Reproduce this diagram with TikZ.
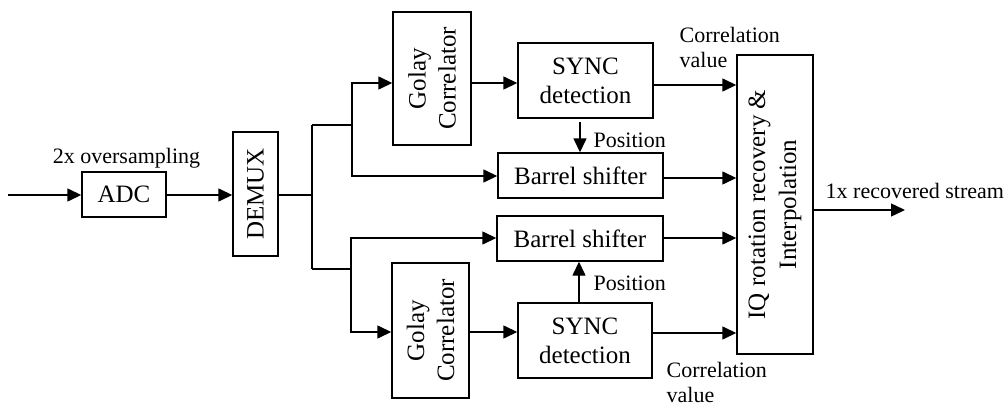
\documentclass[tikz,border=0pt]{standalone}
\usepackage{fontspec}
\setmainfont{Liberation Serif}
\usetikzlibrary{arrows.meta}
\begin{document}
\begin{tikzpicture}[x=1pt,y=-1pt,
  line width=1.4pt,
  blk/.style={draw, line width=1.4pt, inner sep=0pt, align=center,
    font=\fontsize{25}{29}\selectfont},
  lbl/.style={inner sep=0pt, font=\fontsize{22}{25}\selectfont, align=left},
  arr/.style={-{Triangle[length=14pt,width=13pt]}},
  ln/.style={line join=miter}]
\useasboundingbox (0,0) rectangle (1005,407);
% blocks
\node[blk, minimum width=84pt, minimum height=45pt] (adc) at (124,194.5) {ADC};
\node[blk, minimum width=45pt, minimum height=124pt] (demux) at (255.5,194) {\rotatebox{90}{DEMUX}};
\node[blk, minimum width=78pt, minimum height=133pt] (golu) at (432,78.5) {};
\node[rotate=90, align=center, inner sep=0pt, font=\fontsize{25}{30}\selectfont] (golut) at (golu.center) {Golay\\Correlator};
\node[blk, minimum width=135pt, minimum height=75pt] (syncu) at (585.5,80.5) {SYNC\\detection};
\node[blk, minimum width=165pt, minimum height=45pt] (baru) at (580.5,175.5) {Barrel shifter};
\node[blk, minimum width=166pt, minimum height=45pt] (barl) at (580,238.5) {Barrel shifter};
\node[blk, minimum width=77pt, minimum height=135pt] (goll) at (430.5,330.5) {};
\node[rotate=90, align=center, inner sep=0pt, font=\fontsize{25}{30}\selectfont] (gollt) at (goll.center) {Golay\\Correlator};
\node[blk, minimum width=134pt, minimum height=75pt] (syncl) at (585,340.5) {SYNC\\detection};
\node[blk, minimum width=76pt, minimum height=299pt] (iq) at (775,204.5) {};
\node[rotate=90, align=center, inner sep=0pt, font=\fontsize{25}{31}\selectfont] (iqt) at (iq.center) {IQ rotation recovery \&\\Interpolation};
% labels
\node[lbl, anchor=base] (ovs) at (126.5,163) {2x oversampling};
\node[lbl, anchor=base west] (posu) at (593,147) {Position};
\node[lbl, anchor=base west] (posl) at (593,290) {Position};
\node[lbl, anchor=north west] (corru) at (679,27) {Correlation\\value};
\node[lbl, anchor=north west] (corrl) at (666,362) {Correlation\\value};
\node[lbl, anchor=base west] (rec) at (825,198) {1x recovered stream};
% coordinates
\coordinate (in) at (8,195);
\coordinate (out) at (905,210);
\coordinate (j0) at (312,195);
\coordinate (j1) at (312,125);
\coordinate (j2) at (312,269);
\coordinate (ju) at (352,125);
\coordinate (jl) at (351,269);
% connectors
\draw[arr] (in) -- (in -| adc.west);
\draw[arr] (adc.east |- in) -- (in -| demux.west);
\draw[ln] (demux.east |- j0) -- (j0);
\draw[ln] (j1) -- (j2);
\draw[ln] (j1) -- (ju);
\draw[ln] (j2) -- (jl);
\draw[arr,ln] (ju) -- (352,83) -- (golu.west |- 0,83);
\draw[arr,ln] (ju) -- (352,176) -- (baru.west |- 0,176);
\draw[arr,ln] (jl) -- (351,238) -- (barl.west |- 0,238);
\draw[arr,ln] (jl) -- (351,332) -- (goll.west |- 0,332);
\draw[arr] (golu.east |- 0,83) -- (syncu.west |- 0,83);
\draw[arr] (goll.east |- 0,332) -- (syncl.west |- 0,332);
\draw[arr] (syncu.east |- 0,85) -- (iq.west |- 0,85);
\draw[arr] (baru.east |- 0,178) -- (iq.west |- 0,178);
\draw[arr] (barl.east |- 0,238) -- (iq.west |- 0,238);
\draw[arr] (syncl.east |- 0,333) -- (iq.west |- 0,333);
\draw[arr] (580,122) -- (baru.north -| 580,0);
\draw[arr] (syncl.north -| 579,0) -- (barl.south -| 579,0);
\draw[arr] (iq.east |- out) -- (out);
\end{tikzpicture}
\end{document}
